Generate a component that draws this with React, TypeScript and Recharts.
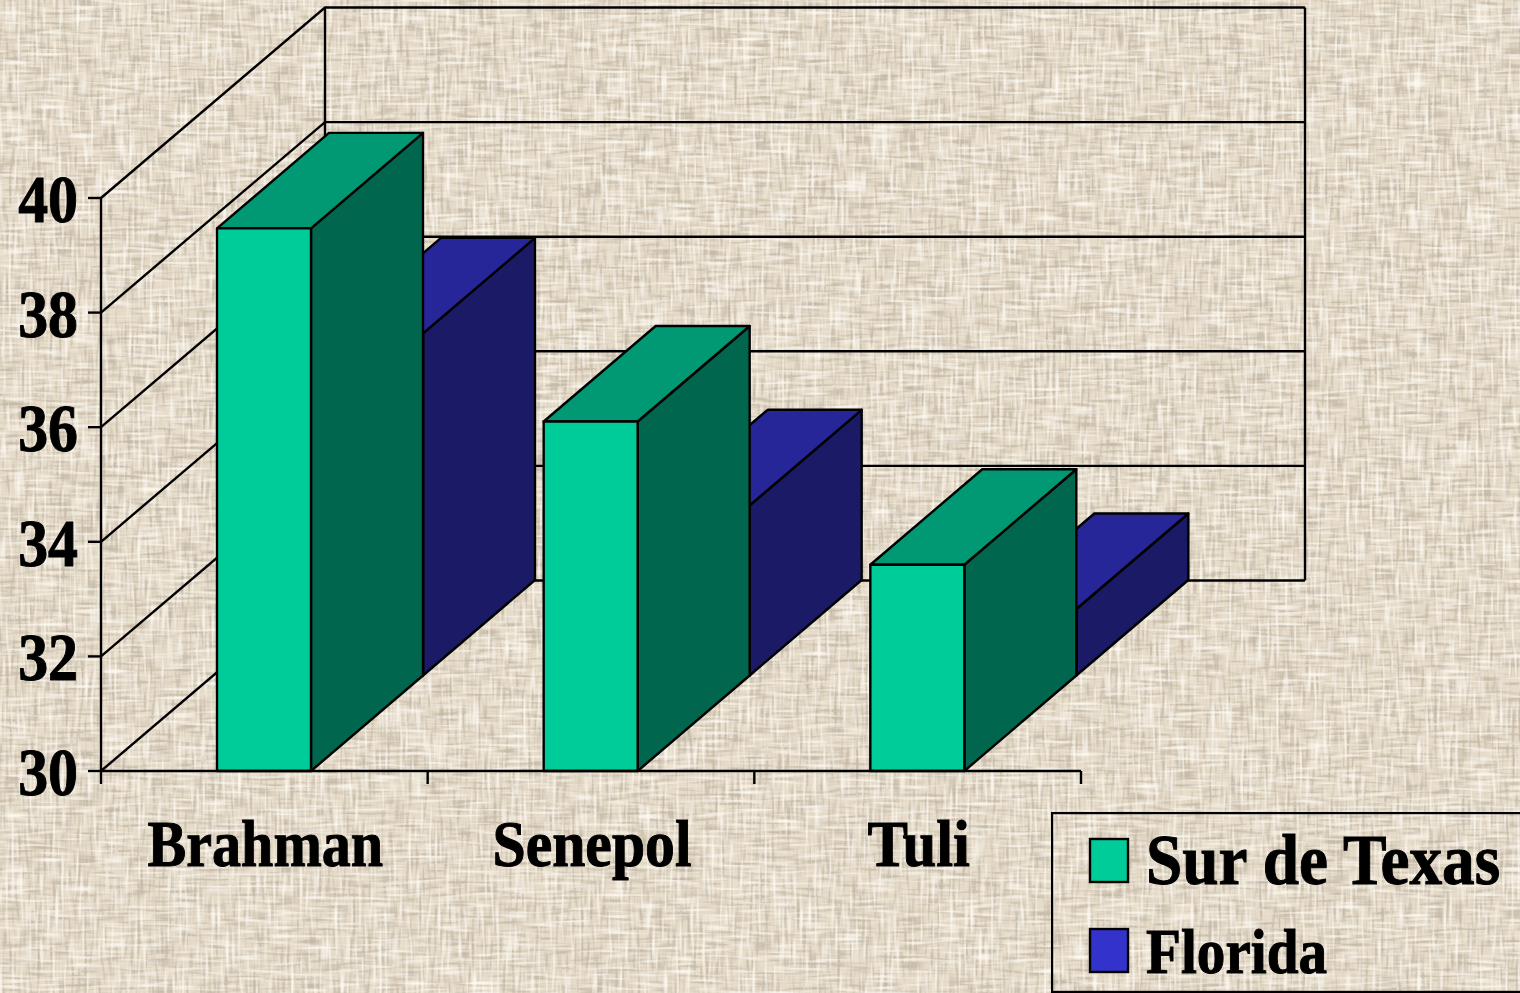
import { BarChart, Bar, XAxis, YAxis, CartesianGrid, Legend } from 'recharts'

const categories = ['Brahman', 'Senepol', 'Tuli']
const surDeTexas = [39.47, 36.1, 33.6]
const florida = [35.97, 32.97, 31.16]
const yTicks = [30, 32, 34, 36, 38, 40]
const seriesNames = ['Sur de Texas', 'Florida']

const data = categories.map((name, i) => ({
  name,
  [seriesNames[0]]: surDeTexas[i],
  [seriesNames[1]]: florida[i],
}))

const WIDTH = 1520
const HEIGHT = 993
const PLOT_LEFT = 101
const PLOT_RIGHT = 1081
const PLOT_TOP = 198
const PLOT_BOTTOM = 771
const WALL_DX = 224
const WALL_DY = 190.5
const BAR_DX = 112
const BAR_DY = 95.5
const LINE_W = 2.4
const SERIF = '"Liberation Serif", serif'

const halfBand = (PLOT_RIGHT - PLOT_LEFT) / categories.length / 2

// the source text is set narrower than Liberation Serif, so squeeze it to the measured widths
const categoryTextScales: Record<string, number> = { Brahman: 0.88, Senepol: 0.905, Tuli: 0.92 }
const legendTextScales: Record<string, number> = { 'Sur de Texas': 0.919, Florida: 0.908 }
const legendFontSizes: Record<string, number> = { 'Sur de Texas': 71, Florida: 63 }

const heavy = { stroke: '#000', strokeWidth: 1 }

// 3D box: front face comes from the bar's own scale, top and side are skewed back
function cuboid(top: string, side: string, depthStep: number) {
  return function Cuboid(props: any) {
    const { x: fx, y: fy, width: w, height: h, fill } = props
    const x = fx + BAR_DX * depthStep
    const y = fy - BAR_DY * depthStep
    const line = { stroke: '#000', strokeWidth: LINE_W, strokeLinejoin: 'round' as const }
    return (
      <g>
        <polygon
          points={`${x + w},${y} ${x + w + BAR_DX},${y - BAR_DY} ${x + w + BAR_DX},${y + h - BAR_DY} ${x + w},${y + h}`}
          fill={side}
          {...line}
        />
        <polygon
          points={`${x},${y} ${x + BAR_DX},${y - BAR_DY} ${x + w + BAR_DX},${y - BAR_DY} ${x + w},${y}`}
          fill={top}
          {...line}
        />
        <rect x={x} y={y} width={w} height={h} fill={fill} {...line} />
      </g>
    )
  }
}

// each gridline wraps around the left and back walls
function WallLine(props: any) {
  const { x1, x2, y1 } = props
  const backY = y1 - WALL_DY
  return (
    <g key={`wall-${y1}`}>
      <polyline
        points={`${x1},${y1} ${x1 + WALL_DX},${backY} ${x2 + WALL_DX},${backY}`}
        fill="none"
        stroke="#000"
        strokeWidth={LINE_W}
      />
      {Math.round(y1) === PLOT_TOP && (
        <path
          d={`M${x1 + WALL_DX},${backY} V${PLOT_BOTTOM - WALL_DY} M${x2 + WALL_DX},${backY} V${PLOT_BOTTOM - WALL_DY}`}
          stroke="#000"
          strokeWidth={LINE_W}
        />
      )}
    </g>
  )
}

function YTick({ y, payload }: any) {
  return (
    <text
      transform={`translate(78 ${y + 24}) scale(0.88 1)`}
      textAnchor="end"
      fontFamily={SERIF}
      fontWeight="bold"
      fontSize={68}
      fill="#000"
      {...heavy}
    >
      {payload.value}
    </text>
  )
}

function XTick({ x, y, payload, index }: any) {
  const axisY = PLOT_BOTTOM
  return (
    <g>
      <line x1={x - halfBand} x2={x - halfBand} y1={axisY} y2={axisY + 13} stroke="#000" strokeWidth={LINE_W} />
      {index === categories.length - 1 && (
        <line x1={x + halfBand} x2={x + halfBand} y1={axisY} y2={axisY + 13} stroke="#000" strokeWidth={LINE_W} />
      )}
      <text
        transform={`translate(${x + 1} ${y + 87}) scale(${categoryTextScales[payload.value]} 1)`}
        textAnchor="middle"
        fontFamily={SERIF}
        fontWeight="bold"
        fontSize={66}
        fill="#000"
        {...heavy}
      >
        {payload.value}
      </text>
    </g>
  )
}

function LegendBox({ payload }: any) {
  const items = seriesNames.map((n) => (payload || []).find((p: any) => p.value === n)).filter(Boolean)
  return (
    <svg width={469} height={181} style={{ display: 'block' }}>
      <rect x={1} y={1} width={500} height={179} fill="none" stroke="#000" strokeWidth={LINE_W} />
      {items.map((item: any, i: number) => (
        <g key={item.value}>
          <rect x={39} y={27 + i * 90} width={38} height={43} fill={item.color} stroke="#000" strokeWidth={LINE_W} />
          <text
            transform={`translate(95 ${72 + i * 89}) scale(${legendTextScales[item.value]} 1)`}
            fontFamily={SERIF}
            fontWeight="bold"
            fontSize={legendFontSizes[item.value]}
            fill="#000"
            {...heavy}
          >
            {item.value}
          </text>
        </g>
      ))}
    </svg>
  )
}

function NoiseFilter({ id, freq, seed, rgb, gain, bias }: any) {
  return (
    <filter id={id} x="0" y="0" width="100%" height="100%">
      <feTurbulence type="fractalNoise" baseFrequency={freq} numOctaves={1} seed={seed} />
      <feColorMatrix values={`0 0 0 0 ${rgb[0]}  0 0 0 0 ${rgb[1]}  0 0 0 0 ${rgb[2]}  ${gain} 0 0 0 ${bias}`} />
    </filter>
  )
}

// burlap background, woven from stretched noise in both directions
function Burlap() {
  const dark = [0.56, 0.49, 0.39]
  const light = [1, 0.98, 0.93]
  return (
    <svg width={WIDTH} height={HEIGHT} style={{ position: 'absolute', left: 0, top: 0 }}>
      <defs>
        <NoiseFilter id="darkH" freq="0.04 0.32" seed={4} rgb={dark} gain={3.6} bias={-1.75} />
        <NoiseFilter id="darkV" freq="0.32 0.04" seed={9} rgb={dark} gain={3.6} bias={-1.75} />
        <NoiseFilter id="lightH" freq="0.03 0.34" seed={21} rgb={light} gain={2.6} bias={-1.3} />
        <NoiseFilter id="lightV" freq="0.34 0.03" seed={33} rgb={light} gain={2.6} bias={-1.3} />
      </defs>
      <rect width={WIDTH} height={HEIGHT} fill="#E6DBC8" />
      <rect width={WIDTH} height={HEIGHT} filter="url(#darkH)" />
      <rect width={WIDTH} height={HEIGHT} filter="url(#darkV)" />
      <rect width={WIDTH} height={HEIGHT} filter="url(#lightH)" />
      <rect width={WIDTH} height={HEIGHT} filter="url(#lightV)" />
    </svg>
  )
}

export default function App() {
  return (
    <div style={{ position: 'absolute', left: 0, top: 0, width: WIDTH, height: HEIGHT, overflow: 'hidden' }}>
      <Burlap />
      <BarChart
        width={WIDTH}
        height={HEIGHT}
        data={data}
        barSize={94}
        barGap={-94}
        margin={{ top: PLOT_TOP, right: WIDTH - PLOT_RIGHT, bottom: 122, left: 0 }}
        style={{ position: 'absolute', left: 0, top: 0 }}
      >
        <CartesianGrid vertical={false} horizontal={WallLine} />
        <XAxis
          dataKey="name"
          height={HEIGHT - PLOT_BOTTOM - 122}
          axisLine={{ stroke: '#000', strokeWidth: LINE_W }}
          tickLine={false}
          tick={XTick}
          interval={0}
        />
        <YAxis
          domain={[30, 40]}
          ticks={yTicks}
          width={PLOT_LEFT}
          axisLine={{ stroke: '#000', strokeWidth: LINE_W }}
          tickLine={{ stroke: '#000', strokeWidth: LINE_W }}
          tickSize={13}
          tick={YTick}
          interval={0}
        />
        <Legend
          layout="vertical"
          align="center"
          verticalAlign="middle"
          content={LegendBox}
          wrapperStyle={{ left: 1051, top: 812, width: 469, height: 181 }}
        />
        <Bar
          dataKey={seriesNames[1]}
          fill="#3333CC"
          shape={cuboid('#262699', '#1A1A66', 1)}
          isAnimationActive={false}
        />
        <Bar
          dataKey={seriesNames[0]}
          fill="#00CC99"
          shape={cuboid('#009973', '#00664D', 0)}
          isAnimationActive={false}
        />
      </BarChart>
    </div>
  )
}
